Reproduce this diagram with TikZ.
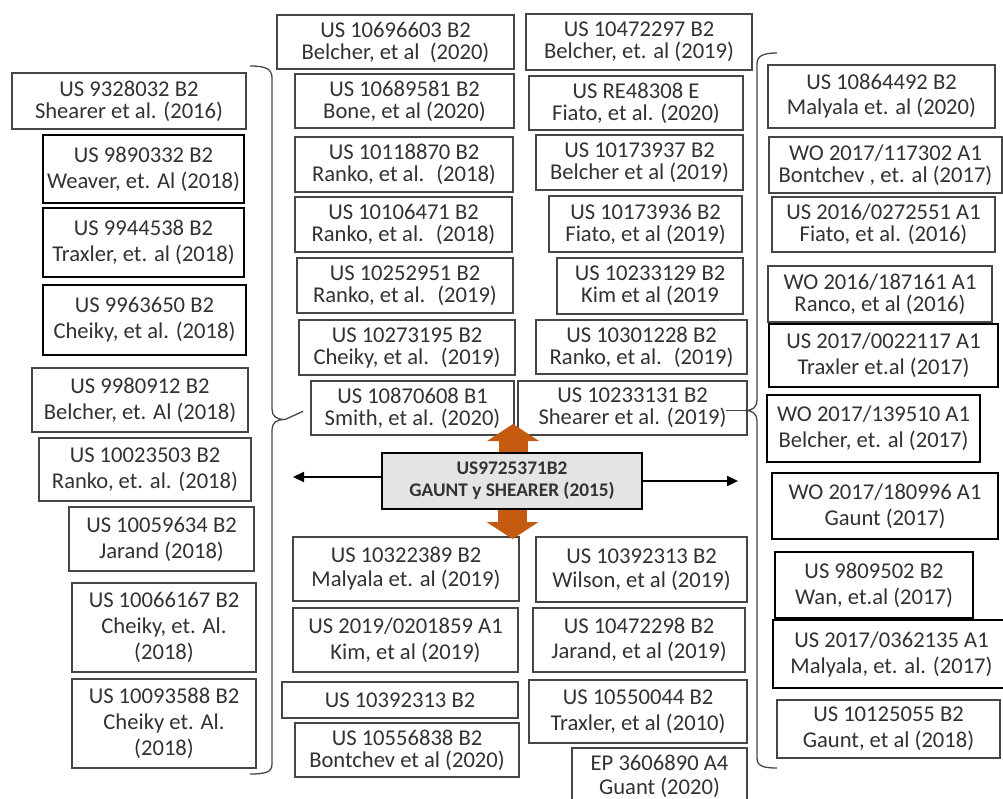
\documentclass[tikz,border=0pt]{standalone}
\usepackage{fontspec}
\setmainfont{Carlito}
\usepackage{xcolor}
\usepackage{tikz}
\usetikzlibrary{arrows.meta, calc}
\definecolor{boxline}{RGB}{70,70,70}
\definecolor{inkgray}{RGB}{50,50,50}
\definecolor{coregray}{RGB}{228,228,228}
\definecolor{orangearr}{RGB}{197,90,17}
\newcommand{\pfont}[1]{\fontsize{22.6}{#1}\selectfont}

\begin{document}
\begin{tikzpicture}[
        x=1pt, y=-1pt,
        patent/.style={draw=boxline, line width=1.3pt, fill=white, text=inkgray, align=center, inner sep=0pt, font=\pfont{22}},
        boldpat/.style={patent, draw=black, line width=2.8pt},
        loose/.style={font=\pfont{26}},
        sz/.style 2 args={minimum width=#1pt, minimum height=#2pt},
        core/.style={draw=black, line width=2.8pt, fill=coregray, align=center, inner sep=0pt, font=\bfseries\fontsize{19.3}{22}\selectfont, text=inkgray},
        arr/.style={-{Triangle[length=11pt, width=10pt]}, line width=2.2pt},
        blockarr/.style={draw=orangearr, line width=29pt, -{Triangle[length=17pt, width=52pt, line width=0pt]}},
        bracket/.style={line width=1.3pt, draw=boxline}
    ]
    \useasboundingbox (0,0) rectangle (1003,799);

    % Left column
    \node[patent, sz={234}{56}] (shearer16) at (129,101) {US 9328032 B2\\Shearer et al. (2016)};
    \node[boldpat, loose, sz={201}{68}] (weaver18) at (143.5,169) {US 9890332 B2\\Weaver, et. Al (2018)};
    \node[boldpat, loose, sz={201}{69}] (traxler18) at (143.5,242.5) {US 9944538 B2\\Traxler, et. al (2018)};
    \node[boldpat, loose, sz={203}{70}] (cheiky18) at (144.5,320) {US 9963650 B2\\Cheiky, et al. (2018)};
    \node[patent, loose, sz={216}{64}] (belcher18) at (140,400) {US 9980912 B2\\Belcher, et. Al (2018)};
    \node[patent, loose, sz={212}{63}] (ranko18a) at (145,469.5) {US 10023503 B2\\Ranko, et. al. (2018)};
    \node[patent, loose, sz={185}{64}] (jarand18) at (161.5,539) {US 10059634 B2\\Jarand (2018)};
    \node[patent, loose, sz={184}{89}] (cheiky18b) at (164,627.5) {US 10066167 B2\\Cheiky, et. Al.\\(2018)};
    \node[patent, loose, sz={184}{89}] (cheiky18c) at (164,723.5) {US 10093588 B2\\Cheiky et. Al.\\(2018)};

    % Middle columns, above the core
    \node[patent, sz={237}{54}] (belcher20) at (395.5,42) {US 10696603 B2\\Belcher, et al~ (2020)};
    \node[patent, sz={219}{54}] (bone20) at (404.5,101) {US 10689581 B2\\Bone, et al (2020)};
    \node[patent, sz={218}{55}] (ranko18b) at (404,164.5) {US 10118870 B2\\Ranko, et al.~ (2018)};
    \node[patent, sz={217}{55}] (ranko18c) at (403.5,224.5) {US 10106471 B2\\Ranko, et al.~ (2018)};
    \node[patent, sz={216}{55}] (ranko19a) at (405,285.5) {US 10252951 B2\\Ranko, et al.~ (2019)};
    \node[patent, sz={216}{55}] (cheiky19) at (407,347.5) {US 10273195 B2\\Cheiky, et al.~ (2019)};
    \node[patent, sz={203}{54}] (smith20) at (412.5,408) {US 10870608 B1\\Smith, et al. (2020)};

    \node[patent, sz={226}{56}] (belcher19a) at (639,42) {US 10472297 B2\\Belcher, et. al (2019)};
    \node[patent, sz={214}{54}] (fiato20) at (636,103) {US RE48308 E\\Fiato, et al. (2020)};
    \node[patent, sz={207}{55}] (belcher19b) at (639.5,162.5) {US 10173937 B2\\Belcher et al (2019)};
    \node[patent, sz={193}{56}] (fiato19) at (645.5,224) {US 10173936 B2\\Fiato, et al (2019)};
    \node[patent, sz={186}{56}] (kim19a) at (650,286) {US 10233129 B2\\Kim et al (2019};
    \node[patent, sz={211}{54}] (ranko19b) at (641.5,347) {US 10301228 B2\\Ranko, et al.~ (2019)};
    \node[patent, sz={229}{54}] (shearer19) at (632.5,408) {US 10233131 B2\\Shearer et al. (2019)};

    % Core patent
    \node[core, minimum width=260pt, minimum height=56pt] (core) at (512,481) {US9725371B2\\GAUNT y SHEARER (2015)};

    % Middle columns, below the core
    \node[patent, font=\pfont{24}, sz={226}{64}] (malyala19) at (406,569) {US 10322389 B2\\Malyala et. al (2019)};
    \node[patent, loose, sz={225}{64}] (kim19b) at (405.5,640) {US 2019/0201859 A1\\Kim, et al (2019)};
    \node[patent, sz={236}{36}] (us392) at (400,700) {US 10392313 B2};
    \node[patent, sz={224}{54}] (bontchev20) at (407,750) {US 10556838 B2\\Bontchev et al (2020)};

    \node[patent, font=\pfont{24}, sz={211}{65}] (wilson19) at (641.5,569.5) {US 10392313 B2\\Wilson, et al (2019)};
    \node[patent, font=\pfont{25}, sz={212}{64}] (jarand19) at (639,640) {US 10472298 B2\\Jarand, et al (2019)};
    \node[patent, loose, sz={218}{63}] (traxler10) at (638,711.5) {US 10550044 B2\\Traxler, et al (2010)};
    \node[patent, font=\pfont{24}, sz={175}{57}] (guant20) at (659.5,776.5) {EP 3606890 A4\\Guant (2020)};

    % Right column
    \node[patent, font=\pfont{25}, sz={227}{63}] (malyala20) at (881.5,96.5) {US 10864492 B2\\Malyala et. al (2020)};
    \node[patent, sz={233}{56}] (bontchev17) at (885.5,165) {WO 2017/117302 A1\\Bontchev , et. al (2017)};
    \node[patent, sz={223}{55}] (fiato16) at (883.5,224.5) {US 2016/0272551 A1\\Fiato, et al. (2016)};
    \node[patent, sz={224}{56}] (ranco16) at (880,294) {WO 2016/187161 A1\\Ranco, et al (2016)};
    \node[boldpat, loose, sz={229}{63}] (traxler17) at (883.5,355.5) {US 2017/0022117 A1\\Traxler et.al (2017)};
    \node[boldpat, loose, sz={213}{67}] (belcher17) at (873.5,428.5) {WO 2017/139510 A1\\Belcher, et. al (2017)};
    \node[boldpat, loose, sz={226}{66}] (gaunt17) at (885,506) {WO 2017/180996 A1\\Gaunt (2017)};
    \node[boldpat, loose, sz={198}{66}] (wan17) at (874,585) {US 9809502 B2\\Wan, et.al (2017)};
    \node[boldpat, loose, sz={237}{68}] (malyala17) at (891.5,654) {US 2017/0362135 A1\\Malyala, et. al. (2017)};
    \node[patent, loose, sz={223}{58}] (gaunt18) at (888.5,729) {US 10125055 B2\\Gaunt, et al (2018)};

    % Brackets round the side columns
    \coordinate (lbtip) at (285,419.5);
    \coordinate (rbtip) at (745,410.5);
    \draw[bracket] (250,66) .. controls (266,66) and (272,69) .. (272,78) -- (272,409)
        .. controls (272,416) and (276,419.5) .. (lbtip)
        .. controls (276,419.5) and (272,423) .. (272,430) -- (272,764)
        .. controls (272,772) and (266,774) .. (250,774);
    \draw[bracket] (777,53) .. controls (763,53) and (757,56) .. (757,64) -- (757,400)
        .. controls (757,407) and (753,410.5) .. (rbtip)
        .. controls (753,410.5) and (757,414) .. (757,421) -- (757,758)
        .. controls (757,766) and (763,768) .. (777,768);
    \coordinate (rbin) at ([xshift=-22pt]shearer19.east);
    \draw[bracket, shorten >=8pt] (lbtip) -- (smith20.west);
    \draw[bracket] (rbtip) -- (rbin |- rbtip);

    % Arrows out of the core
    \coordinate (lout) at (293,477);
    \coordinate (rout) at (738,481);
    \coordinate (uptip) at (513,424);
    \coordinate (dntip) at (512.5,539);
    \draw[arr] (core.west |- lout) -- (lout);
    \draw[arr] (core.east) -- (rout);
    \draw[blockarr] (core.north -| uptip) -- (uptip);
    \draw[blockarr] (core.south -| dntip) -- (dntip);

\end{tikzpicture}
\end{document}
